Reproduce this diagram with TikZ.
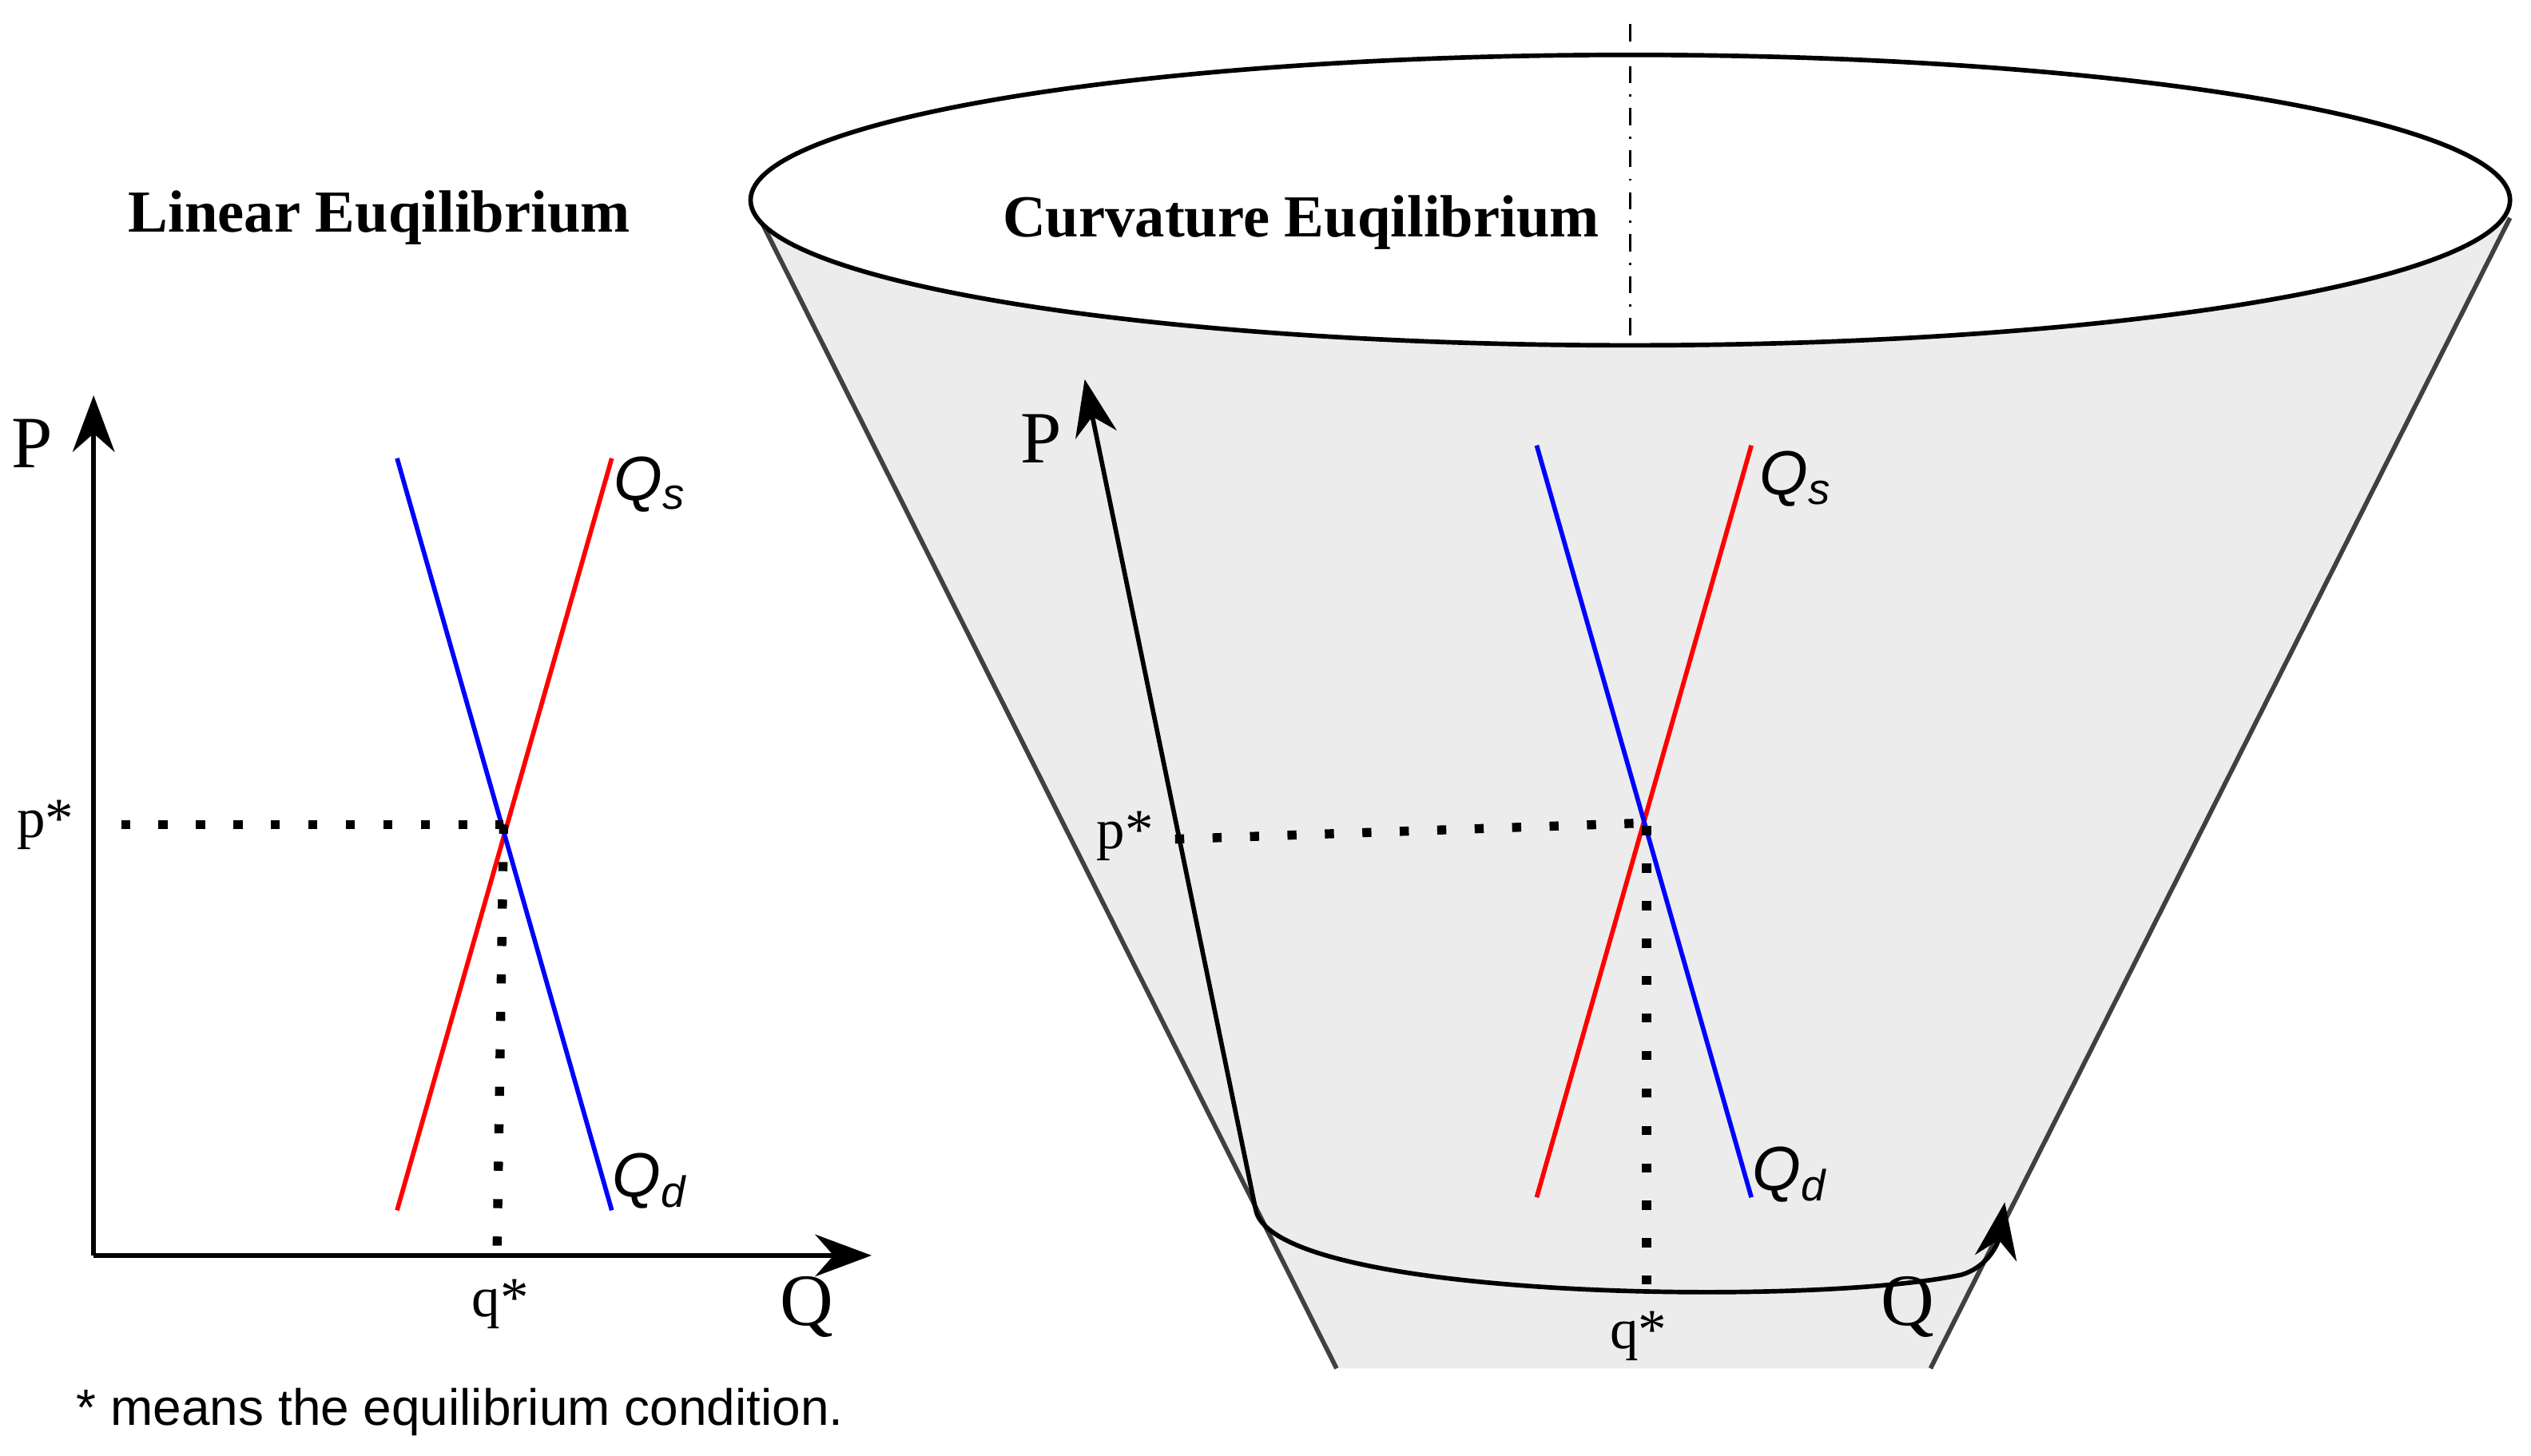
\documentclass[tikz,border=0pt]{standalone}
\usepackage{fontspec}
\setmainfont{Liberation Serif}
\newfontfamily\sansf{Liberation Sans}
\usetikzlibrary{arrows.meta, calc}
\tikzstyle{axis} = [draw, thick, -{Stealth[length=3.5mm,width=2.6mm]}]
\tikzstyle{supply} = [draw, red, thick]
\tikzstyle{demand} = [draw, blue, thick]
\tikzstyle{guide} = [draw, line width=1.6pt, dash pattern=on 1.6pt off 5pt]
\tikzstyle{title} = [font=\fontsize{10.5}{12}\selectfont\bfseries]
\tikzstyle{axlabel} = [font=\fontsize{13}{15}\selectfont]
\tikzstyle{star} = [font=\fontsize{10}{12}\selectfont]
\tikzstyle{curve} = [font=\sansf\itshape\fontsize{11}{13}\selectfont]
\begin{document}
\begin{tikzpicture}[x=0.01cm, y=-0.01cm]
    \useasboundingbox (0,0) rectangle (1568,902);

    % Cone
    \fill[gray!15] (468,130) -- (828,848) -- (1196,848) -- (1555,135) -- cycle;
    \draw[thick, black!75] (468,130) -- (828,848);
    \draw[thick, black!75] (1555,135) -- (1196,848);
    \draw[thick, fill=white] (1010,124) ellipse (545 and 90);
    \draw[dash dot] (1010,15) -- (1010,213);

    % Linear equilibrium
    \node (ltitle) [title] at (235,135) {Linear Euqilibrium};
    \coordinate (o1) at (58,778);
    \coordinate (ptop1) at (58,245);
    \coordinate (qend1) at (540,778);
    \draw [axis] (o1) -- (ptop1);
    \draw [axis] (o1) -- (qend1);
    \node (lp) [axlabel] at (20,275) {P};
    \node (lq) [axlabel] at (500,810) {Q};
    \coordinate (s1a) at (246,750);
    \coordinate (s1b) at (379,284);
    \coordinate (d1a) at (246,284);
    \coordinate (d1b) at (379,750);
    \coordinate (e1) at (312,511);
    \draw [supply] (s1a) -- (s1b);
    \draw [demand] (d1a) -- (d1b);
    \node (lqs) [curve] at (403,300) {Q\textsubscript{s}};
    \node (lqd) [curve] at (403,732) {Q\textsubscript{d}};
    \coordinate (pl1) at (75,511);
    \coordinate (ql1) at (308,772);
    \draw [guide] (pl1) -- (e1);
    \draw [guide] (e1) -- (ql1);
    \node (lps) [star] at (28,511) {p*};
    \node (lqsr) [star] at (310,808) {q*};
    \node (note) [font=\sansf\fontsize{9}{11}\selectfont] at (285,875) {* means the equilibrium condition.};

    % Curvature equilibrium
    \node (ctitle) [title] at (806,138) {Curvature Euqilibrium};
    \coordinate (o2) at (778,750);
    \coordinate (ptop2) at (672,235);
    \coordinate (qend2) at (1242,745);
    \draw [axis] (o2) -- (ptop2);
    \draw [axis] (o2) .. controls (790,805) and (1120,810) .. (1215,790)
        .. controls (1232,785) and (1238,770) .. (qend2);
    \node (cp) [axlabel] at (645,272) {P};
    \node (cq) [axlabel] at (1182,810) {Q};
    \coordinate (s2a) at (952,742);
    \coordinate (s2b) at (1085,276);
    \coordinate (d2a) at (952,276);
    \coordinate (d2b) at (1085,742);
    \coordinate (e2) at (1018,510);
    \draw [supply] (s2a) -- (s2b);
    \draw [demand] (d2a) -- (d2b);
    \node (cqs) [curve] at (1113,297) {Q\textsubscript{s}};
    \node (cqd) [curve] at (1109,728) {Q\textsubscript{d}};
    \coordinate (pl2) at (728,520);
    \coordinate (ql2) at (1020,796);
    \draw [guide] (pl2) -- (e2);
    \draw [guide] (1020,512) -- (ql2);
    \node (cps) [star] at (697,518) {p*};
    \node (cqsr) [star] at (1015,828) {q*};
\end{tikzpicture}
\end{document}
